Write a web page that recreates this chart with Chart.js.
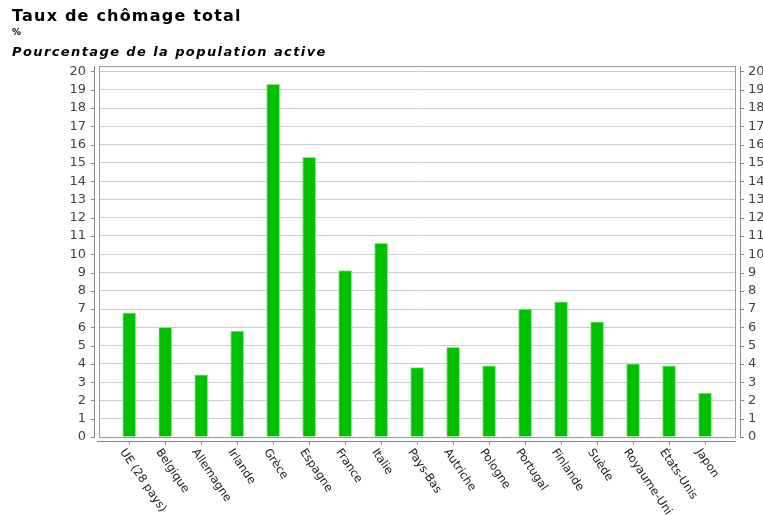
<!DOCTYPE html>
<html>
<head>
<meta charset="utf-8">
<script src="https://cdn.jsdelivr.net/npm/chart.js@4.4.1/dist/chart.umd.min.js"></script>
<style>
  body { margin: 0; background: #fff; }
  #wrap { width: 763px; height: 515px; }
</style>
</head>
<body>
<div id="wrap"><canvas id="chart" width="763" height="515"></canvas></div>
<script>
// --------------------- DATA ------------------------
const titleText = "Taux de chômage total";
const unitText = "%";
const subtitleText = "Pourcentage de la population active";

const countries = ["UE (28 pays)", "Belgique", "Allemagne", "Irlande", "Grèce", "Espagne",
    "France", "Italie", "Pays-Bas", "Autriche", "Pologne", "Portugal", "Finlande",
    "Suède", "Royaume-Uni", "États-Unis", "Japon"];
const rates = [6.8, 6.0, 3.4, 5.8, 19.3, 15.3, 9.1, 10.6, 3.8, 4.9, 3.9, 7.0, 7.4, 6.3, 4.0, 3.9, 2.4];

const yMin = 0;
const yMax = 20;

// --------------------- HEADER TEXT ------------------------
const headerPlugin = {
    id: 'header',
    afterDraw(chart) {
        let ctx = chart.ctx;
        ctx.save();
        ctx.fillStyle = '#000';
        ctx.textAlign = 'left';
        ctx.textBaseline = 'alphabetic';
        ctx.letterSpacing = '1.2px';
        ctx.font = 'bold 16px "DejaVu Sans"';
        ctx.fillText(titleText, 12, 21);
        ctx.letterSpacing = '0px';
        ctx.font = 'bold 9px "DejaVu Sans"';
        ctx.fillText(unitText, 12, 35);
        ctx.letterSpacing = '1.4px';
        ctx.font = 'italic bold 13px "DejaVu Sans"';
        ctx.fillText(subtitleText, 12, 56);
        ctx.restore();
    }
};

// --------------------- FRAME, AXIS LINES, X LABELS ------------------------
const framePlugin = {
    id: 'frame',
    afterDraw(chart) {
        let ctx = chart.ctx;
        let a = chart.chartArea;
        let ys = chart.scales.y;
        let xs = chart.scales.x;
        ctx.save();
        ctx.strokeStyle = '#9a9a9a';
        ctx.lineWidth = 1;
        ctx.strokeRect(a.left + 0.5, a.top + 0.5, a.right - a.left - 1, a.bottom - a.top);

        ctx.strokeStyle = '#888';
        ctx.beginPath();
        // left axis
        ctx.moveTo(a.left - 4.5, a.top);
        ctx.lineTo(a.left - 4.5, a.bottom + 1);
        // right axis
        ctx.moveTo(a.right + 4.5, a.top);
        ctx.lineTo(a.right + 4.5, a.bottom + 1);
        for (let v = yMin; v <= yMax; v++) {
            let y = Math.round(ys.getPixelForValue(v)) + 0.5;
            ctx.moveTo(a.left - 8, y);
            ctx.lineTo(a.left - 4, y);
            ctx.moveTo(a.right + 4, y);
            ctx.lineTo(a.right + 8, y);
        }
        // bottom axis
        let by = a.bottom + 4.5;
        ctx.moveTo(a.left - 2, by);
        ctx.lineTo(a.right, by);
        countries.forEach((c, i) => {
            let x = Math.round(xs.getPixelForValue(i)) + 0.5;
            ctx.moveTo(x, by);
            ctx.lineTo(x, by + 3);
        });
        ctx.stroke();

        // rotated category labels
        ctx.fillStyle = '#1a1a1a';
        ctx.font = '11.5px "DejaVu Sans"';
        ctx.textAlign = 'left';
        ctx.textBaseline = 'middle';
        countries.forEach((c, i) => {
            let x = xs.getPixelForValue(i);
            ctx.save();
            ctx.translate(x - 7, a.bottom + 13);
            ctx.rotate(56 * Math.PI / 180);
            ctx.fillText(c, 0, 0);
            ctx.restore();
        });
        ctx.restore();
    }
};

// --------------------- CHART ------------------------
const yTickFont = { family: '"DejaVu Sans"', size: 13 };

function intTicks(scale) {
    let t = [];
    for (let v = yMin; v <= yMax; v++) t.push({ value: v });
    scale.ticks = t;
}

const ctx = document.getElementById('chart').getContext('2d');
let chart = new Chart(ctx, {
    type: 'bar',
    data: {
        datasets: [{
            label: titleText,
            data: rates.map((v, i) => ({ x: i, y: v })),
            backgroundColor: '#00c000',
            borderColor: '#8ee88e',
            borderWidth: 1,
            barThickness: 13
        }]
    },
    options: {
        responsive: false,
        animation: false,
        layout: { padding: { top: 66, left: 0, right: 0, bottom: 0 } },
        plugins: {
            legend: { display: false },
            tooltip: { enabled: false },
            title: { display: false }
        },
        scales: {
            x: {
                type: 'linear',
                offset: false,
                min: -0.84,
                max: 16.86,
                grid: { display: false },
                border: { display: false },
                ticks: { display: false, autoSkip: false },
                afterBuildTicks: s => { s.ticks = countries.map((c, i) => ({ value: i })); },
                afterFit: s => { s.height = 78; }
            },
            y: {
                position: 'left',
                min: yMin,
                max: yMax + 0.3,
                grid: { color: '#cccccc', drawTicks: false },
                border: { display: false },
                ticks: { padding: 13, color: '#444', font: yTickFont, autoSkip: false },
                afterBuildTicks: intTicks,
                afterFit: s => { s.width = 99; }
            },
            y2: {
                position: 'right',
                min: yMin,
                max: yMax + 0.3,
                grid: { display: false, drawTicks: false },
                border: { display: false },
                ticks: { padding: 12, color: '#444', font: yTickFont, autoSkip: false },
                afterBuildTicks: intTicks,
                afterFit: s => { s.width = 27; }
            }
        }
    },
    plugins: [headerPlugin, framePlugin]
});
</script>
</body>
</html>
